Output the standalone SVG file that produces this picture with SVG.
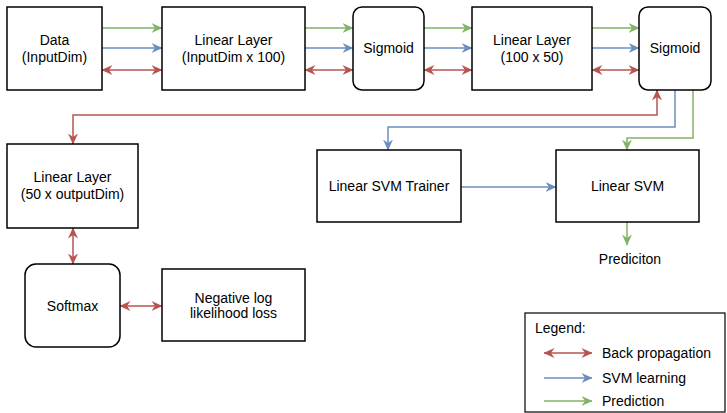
<svg xmlns="http://www.w3.org/2000/svg" width="727" height="413" viewBox="0 0 727 413">
<defs>
<marker id="ar" viewBox="0 0 11 10" refX="10.5" refY="5" markerWidth="11" markerHeight="10" markerUnits="userSpaceOnUse" orient="auto-start-reverse"><path d="M0,0 L11,5 L0,10 L3.5,5 z" fill="#b85450"/></marker>
<marker id="ab" viewBox="0 0 11 10" refX="10.5" refY="5" markerWidth="11" markerHeight="10" markerUnits="userSpaceOnUse" orient="auto-start-reverse"><path d="M0,0 L11,5 L0,10 L3.5,5 z" fill="#6c8ebf"/></marker>
<marker id="ag" viewBox="0 0 11 10" refX="10.5" refY="5" markerWidth="11" markerHeight="10" markerUnits="userSpaceOnUse" orient="auto-start-reverse"><path d="M0,0 L11,5 L0,10 L3.5,5 z" fill="#82b366"/></marker>
</defs>
<style>
.box{fill:#fff;stroke:#000;stroke-width:1.5}
text{font-family:"Liberation Sans",Arial,Helvetica,sans-serif;font-size:14px;fill:#000;text-anchor:middle}
.lg{text-anchor:start}
.r{fill:none;stroke:#b85450;stroke-width:1.5;marker-end:url(#ar);marker-start:url(#ar)}
.b{fill:none;stroke:#6c8ebf;stroke-width:1.5;marker-end:url(#ab)}
.g{fill:none;stroke:#82b366;stroke-width:1.5;marker-end:url(#ag)}
</style>
<g id="connectors">
<path class="g" d="M102,28 H162"/>
<path class="b" d="M102,48 H162"/>
<path class="r" d="M102,70 H162"/>
<path class="g" d="M305,28 H353"/>
<path class="b" d="M305,48 H353"/>
<path class="r" d="M305,70 H353"/>
<path class="g" d="M424,28 H472"/>
<path class="b" d="M424,48 H472"/>
<path class="r" d="M424,70 H472"/>
<path class="g" d="M592,28 H639"/>
<path class="b" d="M592,48 H639"/>
<path class="r" d="M592,70 H639"/>
<path class="r" d="M657,90 V115 H73 V144"/>
<path class="b" d="M675,90 V127 H388 V150"/>
<path class="g" d="M693,90 V138 H627 V150"/>
<path class="b" d="M461,187 H556"/>
<path class="g" d="M627,222 V245"/>
<path class="r" d="M73,228 V264"/>
<path class="r" d="M120,306 H162"/>
</g>
<g id="data"><rect class="box" x="7" y="7" width="95" height="83"/><text x="54.5" y="45">Data</text><text x="54.5" y="62">(InputDim)</text></g>
<g id="linear1"><rect class="box" x="162" y="7" width="143" height="83"/><text x="233.5" y="45">Linear Layer</text><text x="233.5" y="62">(InputDim x 100)</text></g>
<g id="sigmoid1"><rect class="box" x="353" y="7" width="71" height="83" rx="9"/><text x="388.5" y="53">Sigmoid</text></g>
<g id="linear2"><rect class="box" x="472" y="7" width="120" height="83"/><text x="532" y="45">Linear Layer</text><text x="532" y="62">(100 x 50)</text></g>
<g id="sigmoid2"><rect class="box" x="639" y="7" width="72" height="83" rx="9"/><text x="675" y="53">Sigmoid</text></g>
<g id="linear3"><rect class="box" x="7" y="144" width="131" height="84"/><text x="72.5" y="182">Linear Layer</text><text x="72.5" y="199">(50 x outputDim)</text></g>
<g id="softmax"><rect class="box" x="25" y="264" width="95" height="83" rx="11"/><text x="72.5" y="311">Softmax</text></g>
<g id="nll"><rect class="box" x="162" y="269" width="143" height="72"/><text x="233.5" y="303">Negative log</text><text x="233.5" y="318">likelihood loss</text></g>
<g id="svmtrainer"><rect class="box" x="317" y="150" width="144" height="72"/><text x="389" y="191">Linear SVM Trainer</text></g>
<g id="svm"><rect class="box" x="556" y="150" width="143" height="72"/><text x="627.5" y="191">Linear SVM</text></g>
<g id="prediction"><text x="630" y="264">Prediciton</text></g>
<g id="legend">
<rect x="525" y="313" width="200" height="99" fill="#fff" stroke="#000" stroke-width="1.2"/>
<text class="lg" x="535" y="333">Legend:</text>
<path class="r" d="M544,353 H592"/>
<text class="lg" x="602" y="358">Back propagation</text>
<path class="b" d="M544,378 H592"/>
<text class="lg" x="602" y="383">SVM learning</text>
<path class="g" d="M544,401 H592"/>
<text class="lg" x="602" y="406">Prediction</text>
</g>
</svg>
